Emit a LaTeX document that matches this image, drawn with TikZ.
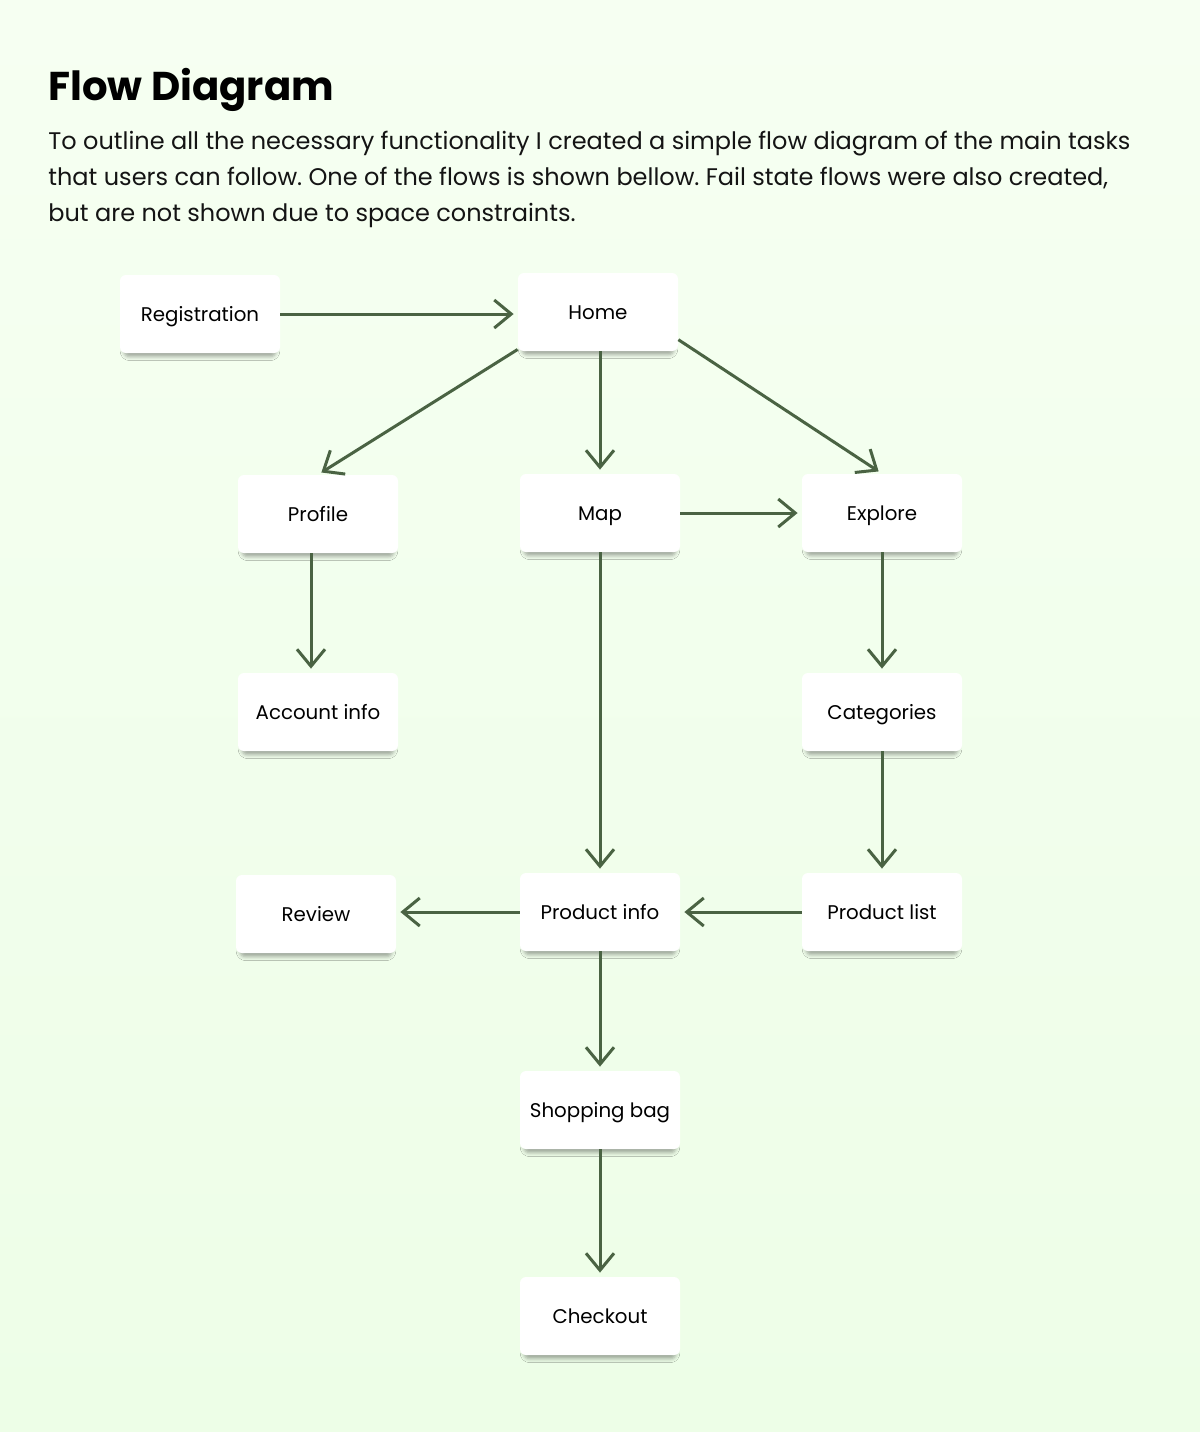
\documentclass[tikz,border=0pt]{standalone}
\usepackage{fontspec}
\setmainfont{Poppins}
\usetikzlibrary{arrows.meta,shadows.blur}
\definecolor{bgtop}{HTML}{F6FFF2}
\definecolor{bgbot}{HTML}{EDFEE7}
\definecolor{flowgreen}{HTML}{4A6343}
\definecolor{inktext}{HTML}{141414}
\tikzset{
  screen/.style={fill=white, rounded corners=3pt, minimum width=80pt,
    minimum height=39pt, inner sep=0pt, text=black,
    text height=7.2pt, text depth=0pt,
    font=\fontsize{9.9}{12}\selectfont,
    blur shadow={shadow xshift=0pt, shadow yshift=-3pt, shadow scale=0.95,
      shadow blur radius=2pt, shadow opacity=35}},
  flow/.style={draw=flowgreen, line width=1.5pt, shorten >=2pt,
    -{Straight Barb[length=8.5pt,width=14pt]}}
}
\begin{document}
\begin{tikzpicture}[x=0.5pt,y=-0.5pt]
      \shade[top color=bgtop, bottom color=bgbot] (0,0) rectangle (1200,1432);
      \useasboundingbox (0,0) rectangle (1200,1432);
      \node[anchor=base west, inner sep=0pt, font=\fontsize{20.1}{24}\bfseries\selectfont]
        (title) at (48,100) {Flow Diagram};
      \node[anchor=north west, inner sep=0pt, align=left, text=inktext,
        font=\fontsize{12}{18}\selectfont\frenchspacing] (intro) at (48,131)
        {To outline all the necessary functionality I created a simple flow diagram of the main tasks\\
         that users can follow. One of the flows is shown bellow. Fail state flows were also created,\\
         but are not shown due to space constraints.};
      \path[every node/.style={screen}]
        (200,314) node (reg){Registration}
        (598,312) node (home){Home}
        (318,514) node (profile){Profile}
        (600,513) node (map){Map}
        (882,513) node (explore){Explore}
        (318,712) node (account){Account info}
        (882,712) node (categories){Categories}
        (316,914) node (review){Review}
        (600,912) node (info){Product info}
        (882,912) node (list){Product list}
        (600,1110) node (bag){Shopping bag}
        (600,1316) node (checkout){Checkout};
      \begin{scope}[flow]
        \draw (reg) to (reg -| home.west);
        \draw (home.205) to (profile.north);
        \draw (home.south -| map.north) to (map.north);
        \draw (home.-19) to (explore.north);
        \draw (map) to (explore);
        \draw ([xshift=-3.5pt]profile.south) to ([xshift=-3.5pt]account.north);
        \draw (map) to (info);
        \draw (explore) to (categories);
        \draw (categories) to (list);
        \draw (list) to (info);
        \draw (info) to (info -| review.east);
        \draw (info) to (bag);
        \draw (bag) to (checkout);
      \end{scope}
    \end{tikzpicture}
\end{document}
